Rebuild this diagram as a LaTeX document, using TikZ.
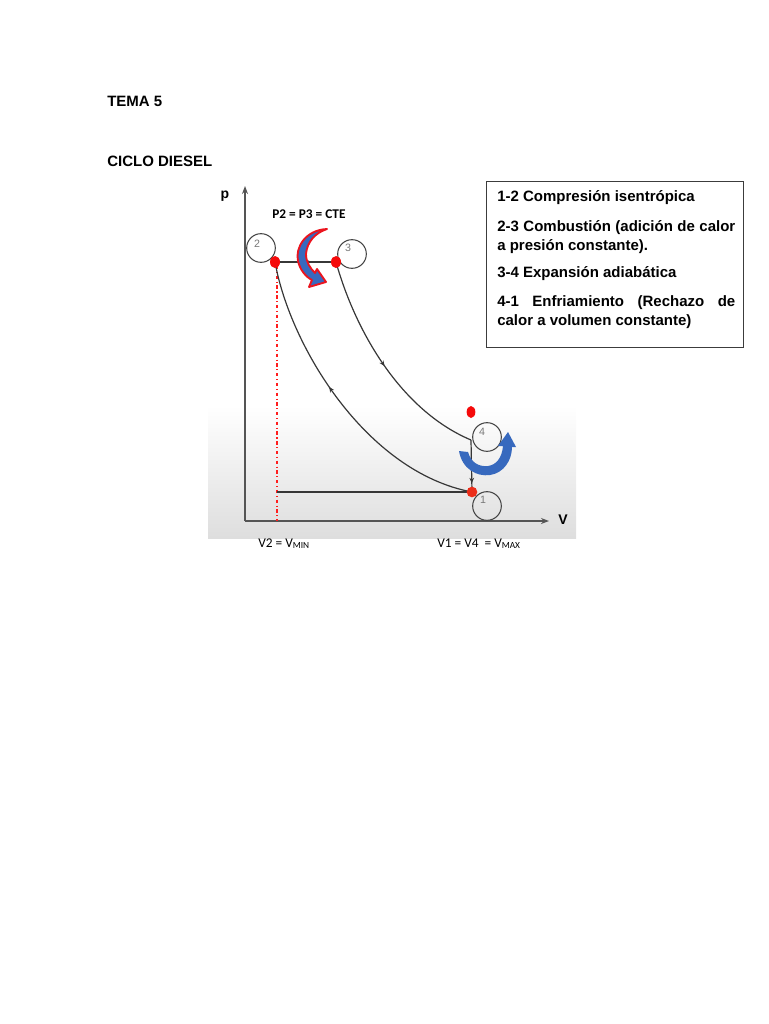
\documentclass[tikz,border=0pt]{standalone}
\usepackage{fontspec}
\setmainfont{Liberation Sans}
\newfontfamily\carlito{Carlito}
\usetikzlibrary{arrows.meta,decorations.markings,shapes.geometric}
\definecolor{axisgray}{RGB}{85,85,85}
\definecolor{curvegray}{RGB}{55,55,55}
\definecolor{circgray}{RGB}{70,70,70}
\definecolor{numgray}{RGB}{120,120,120}
\definecolor{dotred}{RGB}{245,10,10}
\definecolor{dotorange}{RGB}{235,45,25}
\definecolor{arrblue}{RGB}{55,105,190}
\definecolor{arrred}{RGB}{235,20,30}
\definecolor{boxgray}{RGB}{60,60,60}
\definecolor{bggray}{RGB}{222,222,222}
\definecolor{dashred}{RGB}{255,30,30}
\begin{document}
\begin{tikzpicture}[x=0.75pt,y=-0.75pt,
  axisline/.style={draw=axisgray, line width=1pt, -{Stealth[length=6pt,width=4.5pt]}},
  curveline/.style={draw=curvegray, line width=0.9pt},
  statecirc/.style={circle, draw=circgray, line width=0.8pt, minimum size=21.5pt, inner sep=0},
  statenum/.style={text=numgray, font=\fontsize{8}{9}\selectfont, inner sep=0},
  reddot/.style={ellipse, fill=dotred, inner sep=0, minimum width=7.5pt, minimum height=9pt},
  midarrow/.style={postaction={decorate,decoration={markings,mark=at position #1 with {\arrow{Stealth[length=4pt,width=3.5pt]}}}}},
  boxtext/.style={anchor=base west, font=\bfseries\fontsize{11.25}{13}\selectfont, inner sep=0},
  title/.style={anchor=base west, font=\bfseries\fontsize{11.25}{13}\selectfont, inner sep=0},
  vlabel/.style={anchor=base west, font=\carlito\fontsize{10}{12}\selectfont, inner sep=0}
]
\useasboundingbox (0,0) rectangle (768,1024);

% titles
\node[title] (t1) at (107,106) {TEMA 5};
\node[title] (t2) at (107,166) {CICLO DIESEL};

% plot background
\shade[top color=white, bottom color=bggray] (208,405) rectangle (576,538);

% axes
\coordinate (o) at (245,521);
\coordinate (ytip) at (245,186);
\coordinate (xtip) at (549,521);
\draw[axisline] (o) -- (ytip);
\draw[axisline] (o) -- (xtip);
\node[font=\bfseries\fontsize{10.5}{12}\selectfont] (plab) at (225,196) {p};
\node[font=\bfseries\fontsize{10.5}{12}\selectfont] (vlab) at (563,520) {V};

% state points
\coordinate (p1) at (472,492);
\coordinate (p2) at (275,262);
\coordinate (p3) at (336,262);
\coordinate (p4) at (471,440);
\coordinate (v2t) at (277,266);
\coordinate (v2b) at (277,521);
\coordinate (h1) at (277,492);

% red dash-dot line at V2
\draw[draw=dashred, line width=0.8pt, dash pattern=on 2.5pt off 2pt on 0.8pt off 2pt] (v2t) -- (v2b);
% horizontal line at p1
\draw[curveline] (h1) -- (p1);

% processes
\draw[curveline, midarrow=0.6] (p2) -- (p3);
\draw[curveline, midarrow=0.5] (p3) .. controls (355,330) and (400,410) .. (p4);
\draw[curveline, midarrow=0.83] (p4) -- (p1);
\draw[curveline, midarrow=0.57] (p1) .. controls (366,472) and (290,346) .. (p2);

% circles with numbers
\node[statecirc] (c2) at (261,248) {};
\node[statenum] (n2) at (257,244) {2};
\node[statecirc] (c3) at (352,254) {};
\node[statenum] (n3) at (348,248) {3};
\node[statecirc] (c4) at (487,437) {};
\node[statenum] (n4) at (482,432) {4};
\node[statecirc] (c1) at (487,506) {};
\node[statenum] (n1) at (483,500) {1};

% red dots
\node[reddot] (d2) at (p2) {};
\node[reddot] (d3) at (p3) {};
\node[reddot, fill=dotorange, minimum width=8pt, minimum height=8pt] (d1) at (p1) {};
\node[reddot, minimum width=6.5pt, minimum height=9pt] (d4) at (471,412) {};

% red/blue curved arrow (2-3)
\filldraw[fill=arrblue, draw=arrred, line width=1.4pt, line join=round]
  (327,229) .. controls (305,230) and (295,248) .. (298,261)
  .. controls (300,270) and (306,277) .. (312,280)
  -- (309,287) -- (326,282) -- (317,269) -- (315,273)
  .. controls (310,268) and (306,262) .. (306,254)
  .. controls (307,242) and (315,233) .. (327,229) -- cycle;

% blue curved arrow (4-1)
\fill[arrblue]
  (459,451) .. controls (462,469) and (477,477) .. (490,475)
  .. controls (504,473) and (512,460) .. (512,447)
  -- (516,447) -- (508,432) -- (498,446) -- (503,446)
  .. controls (502,458) and (496,465) .. (488,466)
  .. controls (478,467) and (471,462) .. (468,452) -- cycle;

% P2 = P3 = CTE
\node[anchor=base west, font=\carlito\bfseries\fontsize{10}{12}\selectfont, inner sep=0] (cte) at (272,218) {P2 = P3 = CTE};

% bottom labels
\node[vlabel] (lv2) at (258,547) {V2 = V\raisebox{-1pt}{\fontsize{7}{8}\selectfont MIN}};
\node[vlabel] (lv1) at (437,547) {V1 = V4\ \ = V\raisebox{-1pt}{\fontsize{7}{8}\selectfont MAX}};

% text box
\node[draw=boxgray, line width=1.1pt, anchor=north west, minimum width=192.75pt, minimum height=124.5pt, inner sep=0] (box) at (486,181) {};
\node[boxtext] (b1) at (497,201) {1-2 Compresión isentrópica};
\node[boxtext] (b2) at (497,231) {\hbox to 178.5pt{2-3 Combustión (adición de calor}};
\node[boxtext] (b3) at (497,250) {a presión constante).};
\node[boxtext] (b4) at (497,277) {3-4 Expansión adiabática};
\node[boxtext] (b5) at (497,306) {\hbox to 178.5pt{4-1\hfill Enfriamiento\hfill (Rechazo\hfill de}};
\node[boxtext] (b6) at (497,325) {calor a volumen constante)};
\end{tikzpicture}
\end{document}
